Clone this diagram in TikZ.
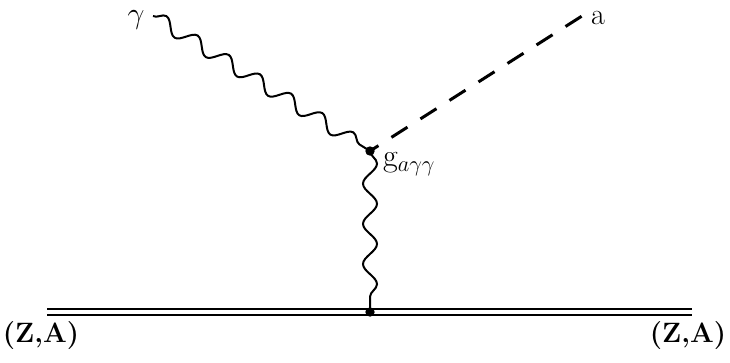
\RequirePackage{fix-cm}
\documentclass[tikz,border=0pt]{standalone}
\usetikzlibrary{decorations.pathmorphing}
\begin{document}
\begin{tikzpicture}[x=1pt,y=-1pt,
  photon/.style={decorate,decoration={snake,amplitude=7pt,segment length=36.7pt},line width=2pt},
  vphoton/.style={decorate,decoration={snake,amplitude=7pt,segment length=40.2pt},line width=2pt},
  scalar/.style={dash pattern=on 19pt off 15.4pt, dash phase=9pt, line width=3pt},
  heavy/.style={double, double distance=4pt, line width=2pt},
  lbl/.style={inner sep=0pt, font=\fontsize{30}{34}\selectfont},
  zlbl/.style={inner sep=0pt, font=\fontsize{28}{32}\selectfont\bfseries}]
\useasboundingbox (0,0) rectangle (730,362);
\coordinate (v1) at (370,151);
\coordinate (v2) at (370,312);
\coordinate (gin) at (153,16);
\coordinate (aout) at (582,16);
\coordinate (L) at (47,312);
\coordinate (R) at (692,312);
\node[lbl] (glabel) at (136,20) {$\gamma$};
\node[lbl] (alabel) at (598,18) {a};
\node[lbl, anchor=west, font=\fontsize{32}{36}\selectfont] (coupling) at (383,164) {g$_{a\gamma\gamma}$};
\node[zlbl] (zl) at (41,336) {(Z,A)};
\node[zlbl] (zr) at (688,336) {(Z,A)};
\draw[heavy] (L) -- (R);
\draw[photon] (gin) -- (v1);
\draw[vphoton] (v1) -- (v2);
\draw[scalar] (v1) -- (aout);
\fill (v1) circle (4.7pt);
\fill (v2) circle (4.7pt);
\end{tikzpicture}
\end{document}
